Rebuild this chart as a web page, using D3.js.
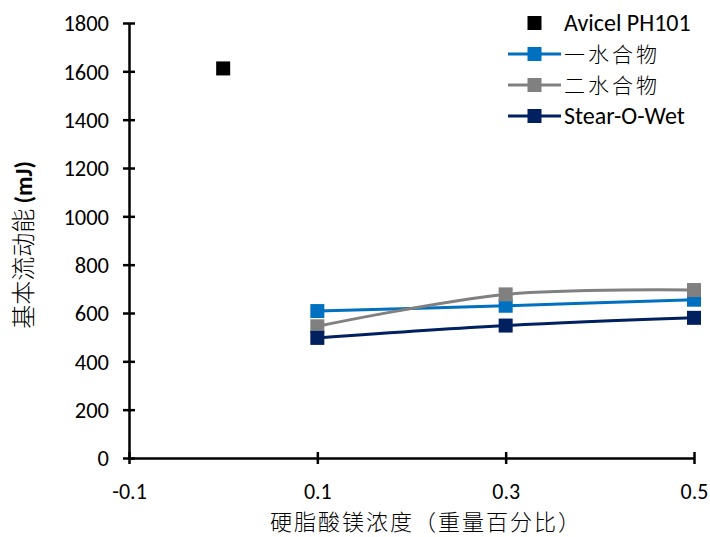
<!DOCTYPE html>
<html><head><meta charset="utf-8">
<script src="https://cdn.jsdelivr.net/npm/d3@7"></script>
<style>body{margin:0;background:#fff}svg{display:block}</style>
</head><body>
<script>
const xTicks = [-0.1, 0.1, 0.3, 0.5];
const yTicks = [0, 200, 400, 600, 800, 1000, 1200, 1400, 1600, 1800];
const avicelX = [0];
const avicelY = [1612];
const seriesX = [0.1, 0.3, 0.5];
const monoY = [608, 630, 655];
const diY = [545, 677, 695];
const stearY = [497, 548, 580];
const seriesNames = ["Avicel PH101", "一水合物", "二水合物", "Stear-O-Wet"];
const seriesColors = ["#000000", "#0070C0", "#808080", "#002060"];

const W = 710, H = 537;
const m = {l: 129, r: 16, t: 23, b: 79};
const svg = d3.select("body").append("svg").attr("width", W).attr("height", H);
const font = "Carlito, Calibri, 'Open Sans', 'Noto Sans', sans-serif";
const cjk = "'Noto Sans CJK SC', sans-serif";

const x = d3.scaleLinear().domain([-0.1, 0.5]).range([m.l, W - m.r]);
const y = d3.scaleLinear().domain([0, 1800]).range([H - m.b, m.t]);

// axes
const xAxis = svg.append("g").attr("transform", `translate(0,${y(0)})`)
  .call(d3.axisBottom(x).tickValues(xTicks).tickFormat(d => d.toFixed(1)).tickSize(6).tickSizeOuter(0));
xAxis.selectAll(".tick line").attr("y1", -6).attr("y2", 6);
xAxis.selectAll("text").attr("dy", 0).attr("y", 41);
const yAxis = svg.append("g").attr("transform", `translate(${x(-0.1)},0)`)
  .call(d3.axisLeft(y).tickValues(yTicks).tickFormat(d => String(d)).tickSize(6).tickSizeOuter(0));
yAxis.selectAll(".tick line").attr("x1", 6).attr("x2", -6);
yAxis.selectAll("text").attr("x", -20).attr("dy", "0.35em");
svg.selectAll(".domain, .tick line").attr("stroke", "#000").attr("stroke-width", 2.5);
svg.selectAll(".tick text").attr("font-family", font).attr("font-size", 22.5).attr("fill", "#000");
xAxis.selectAll("text").attr("font-size", 22);

// lines
const line = d3.line().x(d => x(d[0])).y(d => y(d[1])).curve(d3.curveCatmullRom.alpha(0.5));
const seriesVals = [monoY, diY, stearY];
seriesVals.forEach((vals, i) => {
  const pts = seriesX.map((xv, j) => [xv, vals[j]]);
  svg.append("path").datum(pts).attr("d", line).attr("fill", "none")
    .attr("stroke", seriesColors[i + 1]).attr("stroke-width", 3);
});
const ms = 14;
seriesVals.forEach((vals, i) => {
  svg.append("g").selectAll("rect").data(seriesX.map((xv, j) => [xv, vals[j]])).join("rect")
    .attr("x", d => x(d[0]) - ms / 2).attr("y", d => y(d[1]) - ms / 2)
    .attr("width", ms).attr("height", ms).attr("fill", seriesColors[i + 1]);
});
svg.append("g").selectAll("rect").data(avicelX.map((xv, j) => [xv, avicelY[j]])).join("rect")
  .attr("x", d => x(d[0]) - ms / 2).attr("y", d => y(d[1]) - ms / 2)
  .attr("width", ms).attr("height", ms).attr("fill", seriesColors[0]);

// legend
const lg = svg.append("g");
seriesNames.forEach((n, i) => {
  const cy = 23 + i * 31;
  const latin = /[A-Za-z]/.test(n);
  if (i > 0) lg.append("line").attr("x1", 508).attr("x2", 561).attr("y1", cy).attr("y2", cy)
    .attr("stroke", seriesColors[i]).attr("stroke-width", 3);
  lg.append("rect").attr("x", 534.5 - ms / 2).attr("y", cy - ms / 2).attr("width", ms).attr("height", ms)
    .attr("fill", seriesColors[i]);
  lg.append("text").attr("x", 564).attr("y", cy).attr("dy", latin ? "0.35em" : "0.4em")
    .attr("font-family", latin ? font : cjk).attr("font-weight", latin ? 400 : 300)
    .attr("font-size", latin ? 24 : 21).attr("letter-spacing", latin ? 0 : 3).attr("fill", "#000").text(n);
});

// axis titles
const yt = svg.append("text").attr("transform", `translate(32,245) rotate(-90)`)
  .attr("text-anchor", "middle").attr("font-size", 24).attr("fill", "#000");
yt.append("tspan").attr("font-family", cjk).attr("font-weight", 300).text("基本流动能  ");
yt.append("tspan").attr("font-family", font).attr("font-weight", "bold").text("(mJ)");
svg.append("text").attr("x", 426).attr("y", 530).attr("text-anchor", "middle")
  .attr("font-family", cjk).attr("font-weight", 300).attr("font-size", 22).attr("letter-spacing", 2)
  .attr("fill", "#000").text("硬脂酸镁浓度（重量百分比）");
</script>
</body></html>
